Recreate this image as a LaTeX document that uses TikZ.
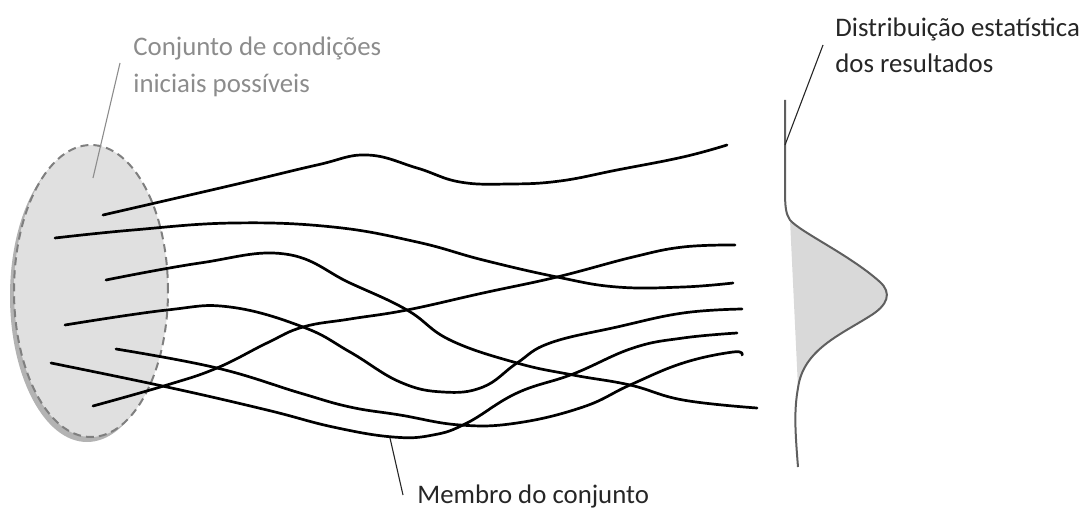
\documentclass[tikz,border=0pt]{standalone}
\usepackage{fontspec}
\setmainfont{Carlito}
\usetikzlibrary{shapes.geometric,shadows}

\definecolor{initgray}{HTML}{8C8C8C}
\definecolor{setfill}{HTML}{E0E0E0}
\definecolor{setline}{HTML}{7F7F7F}
\definecolor{distline}{HTML}{5F5F5F}
\definecolor{distfill}{HTML}{D9D9D9}
\definecolor{textdark}{HTML}{262626}

\begin{document}
\begin{tikzpicture}[x=0.5pt,y=-0.5pt,
    member/.style={line width=1.35pt, line cap=round, line join=round},
    leader/.style={line width=0.55pt, textdark},
    caption/.style={font=\fontsize{13.4}{18.3}\selectfont, align=left, anchor=base west, inner sep=0pt}]

                \useasboundingbox (0,0) rectangle (1085,508);

                \node[ellipse, draw=setline, fill=setfill, line width=1pt, dash pattern=on 4pt off 2.5pt,
                      minimum width=77pt, minimum height=146pt,
                      drop shadow={shadow xshift=-2pt, shadow yshift=-2.5pt, opacity=0.6}] (initset) at (91,291) {};

                \node[caption, initgray] (initlabel) at (133,92) {Conjunto de condições\\iniciais possíveis};
                \node[caption, textdark] (distlabel) at (835,73) {Distribuição estatística\\dos resultados};
                \node[caption, textdark] (memberlabel) at (417,503) {Membro do conjunto};

                \coordinate (initend) at (120,63);
                \coordinate (initpt) at (93,178);
                \coordinate (distend) at (823,45);
                \coordinate (distpt) at (785,145);
                \coordinate (memberend) at (403,495);
                \coordinate (memberpt) at (390,438);

                \fill[distfill] (790,220) .. controls (800,232) and (850,255) .. (880,282)
                    .. controls (892,293) and (888,305) .. (870,316)
                    .. controls (840,335) and (803,350) .. (798,388) -- cycle;
                \draw[distline, line width=1pt] (785,100) -- (785,190)
                    .. controls (785,208) and (786,214) .. (790,220)
                    .. controls (800,232) and (850,255) .. (880,282)
                    .. controls (892,293) and (888,305) .. (870,316)
                    .. controls (840,335) and (803,350) .. (798,388)
                    .. controls (794,410) and (795,430) .. (798,467);

                \draw[member] plot[smooth, tension=0.7] coordinates {(103,215) (233,185) (317,165) (367,155) (417,168) (460,182) (510,184) (560,181) (617,170) (683,157) (727,145)};
                \draw[member] plot[smooth, tension=0.7] coordinates {(55,238) (133,230) (233,223) (333,227) (417,242) (483,260) (557,277) (617,287) (683,287) (733,283)};
                \draw[member] plot[smooth, tension=0.7] coordinates {(106,280) (200,263) (285,254) (350,283) (407,310) (450,340) (517,363) (573,375) (630,385) (683,400) (757,408)};
                \draw[member] plot[smooth, tension=0.7] coordinates {(65,325) (167,310) (230,307) (303,327) (350,352) (400,382) (443,392) (483,387) (517,363) (550,343) (617,327) (683,313) (742,309)};
                \draw[member] plot[smooth, tension=0.7] coordinates {(93,406) (167,385) (217,368) (267,343) (303,327) (350,319) (407,310) (483,293) (557,277) (633,257) (683,247) (735,245)};
                \draw[member] plot[smooth, tension=0.7] coordinates {(116,349) (217,368) (300,393) (350,407) (400,415) (460,425) (517,423) (583,407) (630,385) (683,363) (733,352) (742,355)};
                \draw[member] plot[smooth, tension=0.7] coordinates {(51,363) (167,387) (267,410) (333,427) (393,437) (433,435) (467,423) (517,393) (573,374) (633,348) (683,338) (737,333)};

                \path[leader]
                    (initend) edge[initgray] (initpt)
                    (distend) edge (distpt)
                    (memberend) edge (memberpt)
                ;
            \end{tikzpicture}
\end{document}
